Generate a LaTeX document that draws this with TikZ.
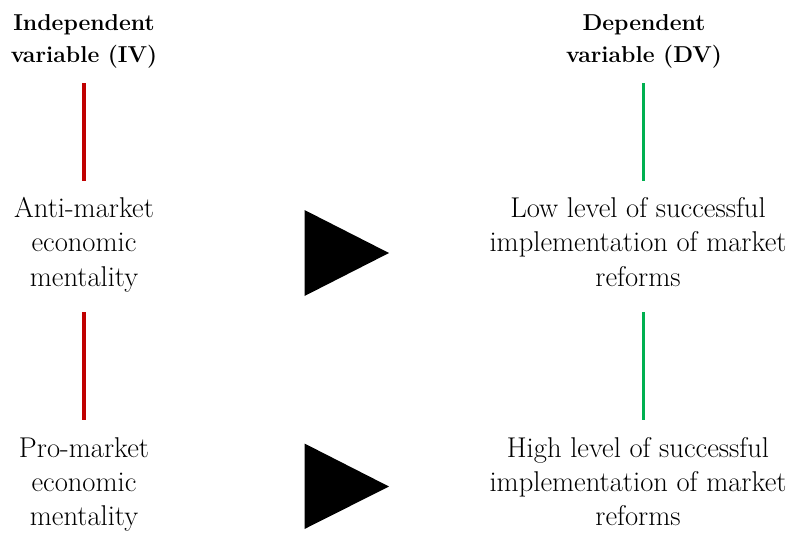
\documentclass[tikz,border=0pt]{standalone}
\usepackage{fontspec}
\definecolor{ivred}{HTML}{C00000}
\definecolor{dvgreen}{HTML}{00B050}
\begin{document}
\begin{tikzpicture}[x=1pt,y=-1pt,
  head/.style={anchor=base,inner sep=0pt,font=\fontsize{23}{31.5}\selectfont\bfseries},
  body/.style={anchor=base,inner sep=0pt,font=\fontsize{28.6}{34.3}\selectfont},
  ivline/.style={draw=ivred,line width=3.8pt},
  dvline/.style={draw=dvgreen,line width=3.8pt},
  tri/.style={fill=black}]
\useasboundingbox (0,0) rectangle (792,533);
% headers
\node[head] (hiv) at (84,30.5) {\begin{tabular}[t]{@{}c@{}}Independent\\variable (IV)\end{tabular}};
\node[head] (hdv) at (644,30.5) {\begin{tabular}[t]{@{}c@{}}Dependent\\variable (DV)\end{tabular}};
% text blocks
\node[body] (anti) at (84,217.5) {\begin{tabular}[t]{@{}c@{}}Anti-market\\economic\\mentality\end{tabular}};
\node[body] (low) at (638,217.5) {\begin{tabular}[t]{@{}c@{}}Low level of successful\\implementation of market\\reforms\end{tabular}};
\node[body] (pro) at (84,457) {\begin{tabular}[t]{@{}c@{}}Pro-market\\economic\\mentality\end{tabular}};
\node[body] (high) at (638,457) {\begin{tabular}[t]{@{}c@{}}High level of successful\\implementation of market\\reforms\end{tabular}};
% line end points
\coordinate (iva) at (84,83);  \coordinate (ivb) at (84,181);
\coordinate (ivc) at (84,312); \coordinate (ivd) at (84,420);
\coordinate (dva) at (643.5,83);  \coordinate (dvb) at (643.5,181);
\coordinate (dvc) at (643.5,312); \coordinate (dvd) at (643.5,420);
\draw[ivline] (iva) -- (ivb);
\draw[ivline] (ivc) -- (ivd);
\draw[dvline] (dva) -- (dvb);
\draw[dvline] (dvc) -- (dvd);
% triangles
\coordinate (t1a) at (304.5,210); \coordinate (t1b) at (304.5,296); \coordinate (t1c) at (389,253);
\coordinate (t2a) at (304.5,443.5); \coordinate (t2b) at (304.5,529); \coordinate (t2c) at (389,486.5);
\fill[tri] (t1a) -- (t1c) -- (t1b) -- cycle;
\fill[tri] (t2a) -- (t2c) -- (t2b) -- cycle;
\end{tikzpicture}
\end{document}
